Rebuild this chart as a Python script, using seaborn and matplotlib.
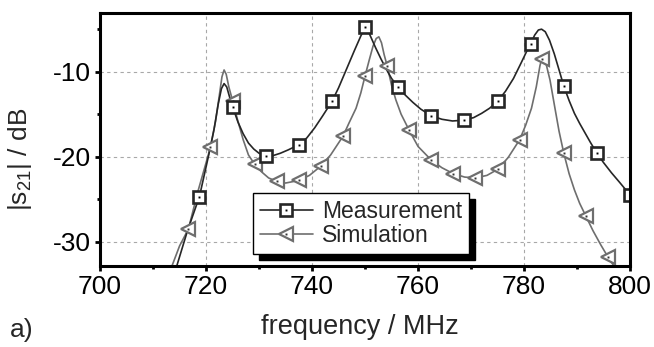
import matplotlib
matplotlib.use("Agg")
import matplotlib.pyplot as plt
import pandas as pd
import seaborn as sns
from matplotlib.lines import Line2D
from matplotlib.legend_handler import HandlerTuple
from matplotlib.ticker import AutoMinorLocator, FixedLocator

# ---- data ----
meas_freq = [713.5, 714.5, 716.5, 718.75, 720.5, 721.5, 722.3, 722.9, 723.4, 723.9,
             724.4, 725.0, 726.0, 727.0, 728.0, 729.0, 730.0, 731.25, 732.5, 734.0,
             735.5, 737.5, 739.0, 740.5, 742.0, 743.75, 745.0, 746.5, 748.0, 749.2,
             750.0, 750.5, 751.0, 752.0, 753.0, 754.0, 755.0, 756.25, 757.5, 759.0,
             760.5, 762.5, 764.5, 766.5, 768.75, 770.5, 772.0, 773.5, 775.0, 776.5,
             778.0, 779.5, 780.5, 781.25, 782.0, 782.7, 783.3, 784.0, 784.8, 785.7,
             786.7, 787.5, 788.5, 789.5, 790.5, 791.5, 792.5, 793.75, 795.0, 796.5,
             798.0, 800.0]
meas_db = [-34.7, -32.8, -28.7, -24.7, -19.8, -16.8, -13.8, -12.0, -11.4, -11.8,
           -12.9, -14.1, -15.9, -17.3, -18.4, -19.1, -19.6, -19.9, -19.9, -19.6,
           -19.2, -18.6, -17.8, -16.6, -15.2, -13.5, -11.9, -9.7, -7.5, -5.8,
           -4.8, -5.1, -5.8, -7.2, -8.5, -9.7, -10.8, -11.8, -12.7, -13.6,
           -14.4, -15.2, -15.6, -15.8, -15.7, -15.4, -14.9, -14.3, -13.5, -12.3,
           -10.8, -8.9, -7.6, -6.7, -5.7, -5.1, -5.0, -5.3, -6.3, -7.9,
           -10.0, -11.7, -13.4, -14.9, -16.1, -17.2, -18.3, -19.6, -20.7, -21.9,
           -23.0, -24.5]

sim_freq = [712.8, 713.6, 715.0, 716.67, 718.5, 720.83, 721.8, 722.5, 723.0, 723.4,
            723.8, 724.3, 725.0, 726.0, 727.0, 728.0, 729.17, 730.5, 731.8, 733.33,
            735.0, 737.5, 739.5, 741.67, 743.5, 745.83, 747.0, 748.3, 749.2, 750.0,
            750.8, 751.5, 752.1, 752.6, 753.1, 753.6, 754.17, 755.0, 755.8, 756.8,
            758.33, 760.0, 762.5, 764.5, 766.67, 768.8, 770.83, 773.0, 775.0, 777.0,
            779.17, 780.3, 781.4, 782.3, 783.0, 783.33, 783.7, 784.2, 784.9, 785.8,
            786.6, 787.5, 788.5, 789.5, 790.5, 791.67, 793.0, 794.5, 795.83, 797.0,
            798.0]
sim_db = [-34.7, -32.8, -30.5, -28.5, -24.0, -18.9, -15.8, -12.8, -10.6, -9.8,
          -10.3, -11.8, -13.4, -15.8, -18.0, -19.8, -20.9, -21.8, -22.5, -22.9,
          -23.1, -22.8, -22.2, -21.1, -19.8, -17.6, -16.0, -14.3, -12.5, -10.5,
          -8.6, -7.0, -6.1, -5.9, -6.6, -8.0, -9.3, -11.6, -13.3, -15.0,
          -16.9, -18.8, -20.4, -21.3, -22.0, -22.4, -22.5, -22.2, -21.5, -20.1,
          -18.0, -16.3, -14.3, -11.8, -9.3, -8.5, -8.3, -9.2, -11.0, -14.2,
          -17.0, -19.6, -22.0, -23.9, -25.5, -27.0, -28.7, -30.4, -31.8, -32.9,
          -34.0]

meas_mk_freq = [718.75, 725.0, 731.25, 737.5, 743.75, 750.0, 756.25, 762.5, 768.75,
                775.0, 781.25, 787.5, 793.75, 800.0]
meas_mk_db = [-24.7, -14.1, -19.9, -18.6, -13.5, -4.8, -11.8, -15.2, -15.7,
              -13.5, -6.7, -11.7, -19.6, -24.5]

sim_mk_freq = [716.67, 720.83, 725.0, 729.17, 733.33, 737.5, 741.67, 745.83, 750.0,
               754.17, 758.33, 762.5, 766.67, 770.83, 775.0, 779.17, 783.33, 787.5,
               791.67, 795.83]
sim_mk_db = [-28.5, -18.9, -13.4, -20.9, -22.9, -22.8, -21.1, -17.6, -10.5,
             -9.3, -16.9, -20.4, -22.0, -22.5, -21.5, -18.0, -8.5, -19.6,
             -27.0, -31.8]

series_names = ["Measurement", "Simulation"]
x_ticks = [700, 720, 740, 760, 780, 800]
y_ticks = [-30, -20, -10]

# ---- style ----
sns.set_theme(style="white")
plt.rcParams["font.family"] = ["Liberation Sans", "DejaVu Sans"]
plt.rcParams["axes.unicode_minus"] = False
plt.rcParams["mathtext.fontset"] = "custom"
plt.rcParams["mathtext.rm"] = "Liberation Sans"
plt.rcParams["mathtext.it"] = "Liberation Sans"

meas_col = "#262626"
sim_col = "#6e6e6e"
sq_ms, sq_mew = 8.0, 1.9
tr_ms, tr_mew = 10.5, 1.6

fig = plt.figure(figsize=(6.54, 3.47), dpi=100)
ax = fig.add_axes([0.153, 0.2334, 0.8104, 0.7291])

df_m = pd.DataFrame({"f": meas_freq, "v": meas_db})
df_s = pd.DataFrame({"f": sim_freq, "v": sim_db})
dm_m = pd.DataFrame({"f": meas_mk_freq, "v": meas_mk_db})
dm_s = pd.DataFrame({"f": sim_mk_freq, "v": sim_mk_db})

sns.lineplot(data=df_s, x="f", y="v", ax=ax, color=sim_col, lw=1.2,
             estimator=None, sort=False, zorder=3)
sns.lineplot(data=df_m, x="f", y="v", ax=ax, color=meas_col, lw=1.2,
             estimator=None, sort=False, zorder=4)

sns.lineplot(data=dm_s, x="f", y="v", ax=ax, linestyle="", marker="<", ms=tr_ms,
             mfc="white", mec=sim_col, mew=tr_mew, estimator=None, sort=False, zorder=5)
sns.lineplot(data=dm_s, x="f", y="v", ax=ax, linestyle="", marker="s", ms=1.4,
             mfc="#333333", mec="#333333", mew=0, estimator=None, sort=False, zorder=6)
sns.lineplot(data=dm_m, x="f", y="v", ax=ax, linestyle="", marker="s", ms=sq_ms,
             mfc="white", mec=meas_col, mew=sq_mew, estimator=None, sort=False, zorder=7)
sns.lineplot(data=dm_m, x="f", y="v", ax=ax, linestyle="", marker="s", ms=1.4,
             mfc="black", mec="black", mew=0, estimator=None, sort=False, zorder=8)

ax.set_xlim(700, 800)
ax.set_ylim(-32.86, -3.1)
ax.xaxis.set_major_locator(FixedLocator(x_ticks))
ax.yaxis.set_major_locator(FixedLocator(y_ticks))
ax.xaxis.set_minor_locator(AutoMinorLocator(2))
ax.yaxis.set_minor_locator(FixedLocator([-25, -15, -5]))
ax.tick_params(which="major", direction="out", length=3.5, width=2.0,
               labelsize=19, pad=3, bottom=True, left=True, top=False, right=False,
               colors="black")
ax.tick_params(which="minor", direction="out", length=2.0, width=2.0,
               bottom=True, left=True, top=False, right=False, colors="black")
ax.grid(which="major", linestyle=(0, (3, 3)), color="#a8a8a8", lw=0.8)
ax.grid(which="minor", visible=False)
for s in ax.spines.values():
    s.set_linewidth(2.2)
    s.set_color("black")
    s.set_zorder(10)

ax.set_xlabel("frequency / MHz", fontsize=19.5)
ax.xaxis.set_label_coords(0.49, -0.19)
ax.xaxis.label.set_va("top")
ax.set_ylabel(r"|s$_{21}$| / dB", fontsize=19)
ax.yaxis.set_label_coords(-0.125, 0.42)

fig.text(0.015, 0.03, "a)", fontsize=19)

h_m = (Line2D([], [], color=meas_col, lw=1.2, marker="s", ms=sq_ms, mfc="white",
              mec=meas_col, mew=sq_mew),
       Line2D([], [], ls="", marker="s", ms=1.4, mfc="black", mec="black", mew=0))
h_s = (Line2D([], [], color=sim_col, lw=1.2, marker="<", ms=tr_ms, mfc="white",
              mec=sim_col, mew=tr_mew),
       Line2D([], [], ls="", marker="s", ms=1.4, mfc="#333333", mec="#333333", mew=0))
leg = ax.legend([h_m, h_s], series_names,
                handler_map={tuple: HandlerTuple(ndivide=1, pad=0)},
                loc="upper left", bbox_to_anchor=(0.289, 0.287), borderaxespad=0,
                fontsize=16.5, frameon=True, fancybox=False, framealpha=1,
                edgecolor="black", handlelength=2.3, handletextpad=0.4,
                borderpad=0.3, labelspacing=0.05,
                shadow={"ox": 4, "oy": -4, "facecolor": "black", "edgecolor": "black", "alpha": 1})
leg.get_frame().set_linewidth(1.0)
leg.set_zorder(12)

fig.savefig("out.png", dpi=100)
